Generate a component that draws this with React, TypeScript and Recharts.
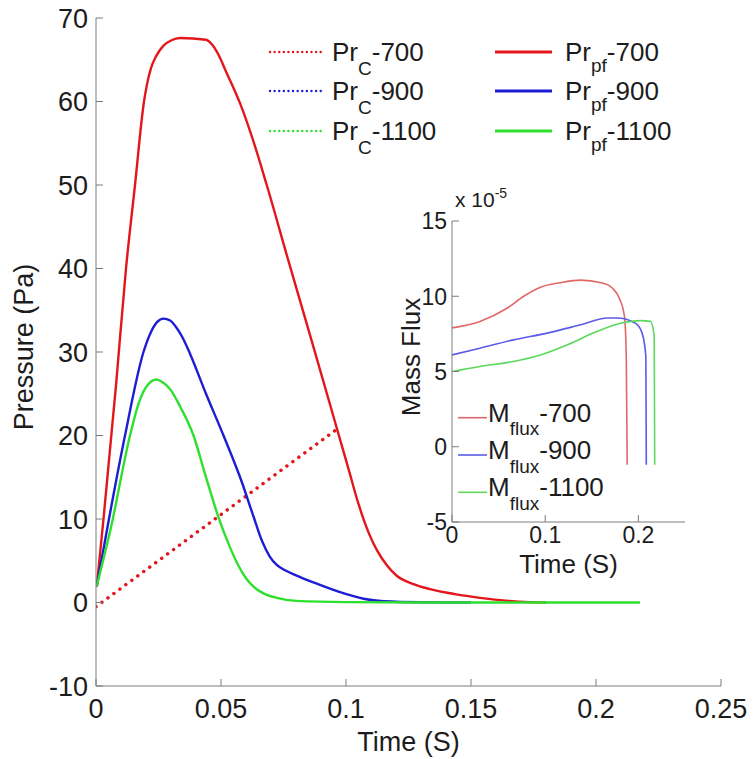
import React from 'react';
import { LineChart, Line, XAxis, YAxis, Label } from 'recharts';

const FONT = '"Liberation Sans", Arial, Helvetica, sans-serif';
const AXIS = '#7d7d7d';
const INK = '#1c1c1c';

const RED = '#e3161c';
const BLUE = '#1d1dd4';
const GREEN = '#2ee02e';
const RED_LIGHT = '#e06868';
const BLUE_LIGHT = '#5b5be6';
const GREEN_LIGHT = '#5cd85c';

// main axes
const timeTicks = [0, 0.05, 0.1, 0.15, 0.2, 0.25];
const pressureTicks = [-10, 0, 10, 20, 30, 40, 50, 60, 70];

// Pr_pf curves (Pa)
const pfTime700 = [0.0003, 0.003, 0.008, 0.012, 0.0156, 0.0192, 0.0205, 0.022, 0.024, 0.027, 0.03, 0.0336, 0.044, 0.0465, 0.049, 0.052, 0.0576, 0.063, 0.0683, 0.0769, 0.0866, 0.0963, 0.101, 0.105, 0.109, 0.1123, 0.1165, 0.1203, 0.127, 0.1336, 0.1436, 0.1536, 0.165, 0.1736, 0.18];
const pf700 = [1.9, 10, 26, 40, 50, 60, 62.2, 64, 65.4, 66.7, 67.3, 67.6, 67.4, 66.8, 65.6, 63.6, 59.8, 55.2, 50, 41, 31, 20.9, 16, 11.8, 8.4, 6.3, 4.4, 3.2, 2.2, 1.6, 1, 0.56, 0.2, 0.05, 0];

const pfTime900 = [0.0003, 0.005, 0.0116, 0.019, 0.022, 0.0245, 0.027, 0.0295, 0.032, 0.0345, 0.0376, 0.044, 0.051, 0.058, 0.063, 0.0665, 0.0695, 0.0723, 0.076, 0.08, 0.087, 0.097, 0.107, 0.115, 0.13, 0.15];
const pf900 = [1.95, 9.7, 20, 30, 32.4, 33.6, 34, 33.8, 33, 31.8, 29.8, 25, 20, 14.7, 10.3, 7.3, 5.5, 4.5, 3.8, 3.25, 2.4, 1.3, 0.45, 0.15, 0.03, 0];

const pfTime1100 = [0.0003, 0.006, 0.0136, 0.017, 0.0205, 0.0243, 0.026, 0.03, 0.0336, 0.039, 0.0436, 0.049, 0.0536, 0.057, 0.06, 0.063, 0.067, 0.0723, 0.08, 0.1, 0.15, 0.2176];
const pf1100 = [1.95, 9, 20, 23.8, 26, 26.7, 26.5, 25.4, 23.5, 20, 15.4, 10.2, 6.6, 4.4, 2.9, 1.9, 1.1, 0.56, 0.2, 0.05, 0, 0];

// Pr_C-700
const cTime700 = [0, 0.097];
const c700 = [-0.5, 20.9];

// inset axes (x 10^-5)
const fluxTimeTicks = [0, 0.1, 0.2];
const fluxTicks = [-5, 0, 5, 10, 15];

const mTime700 = [0, 0.03, 0.059, 0.077, 0.095, 0.116, 0.138, 0.16, 0.172, 0.18, 0.185, 0.187, 0.188];
const m700 = [7.9, 8.33, 9.2, 10, 10.6, 10.9, 11.07, 10.9, 10.55, 9.8, 8.7, 6, -1.2];

const mTime900 = [0, 0.03, 0.066, 0.102, 0.138, 0.167, 0.177, 0.197, 0.204, 0.208, 0.2085];
const m900 = [6.1, 6.55, 7.1, 7.55, 8.1, 8.55, 8.55, 8.2, 7.55, 6, -1.2];

const mTime1100 = [0, 0.03, 0.066, 0.095, 0.124, 0.156, 0.181, 0.2025, 0.213, 0.217, 0.2175];
const m1100 = [5, 5.33, 5.67, 6.1, 6.78, 7.67, 8.2, 8.38, 8.33, 7.33, -1.2];

// legend
const legendTemps = ['-700', '-900', '-1100'];
const legendColors = [RED, BLUE, GREEN];
const insetColors = [RED_LIGHT, BLUE_LIGHT, GREEN_LIGHT];

const pts = (ts: number[], vs: number[]) => ts.map((t, i) => ({ t, v: vs[i] }));

const txt = { fontFamily: FONT, fill: INK };

function bottomTick(p: any, size: number, base: number) {
  return (
    <g>
      <line x1={p.x} x2={p.x} y1={p.y} y2={p.y - 7} stroke={AXIS} />
      <text x={p.x} y={p.y + base} textAnchor="middle" fontSize={size} {...txt}>
        {String(p.payload.value)}
      </text>
    </g>
  );
}

function topTick(p: any) {
  return <line x1={p.x} x2={p.x} y1={p.y} y2={p.y + 7} stroke={AXIS} />;
}

function leftTick(p: any, size: number, gap: number) {
  return (
    <g>
      <line x1={p.x} x2={p.x + 7} y1={p.y} y2={p.y} stroke={AXIS} />
      <text x={p.x - gap} y={p.y} dy="0.36em" textAnchor="end" fontSize={size} {...txt}>
        {String(p.payload.value)}
      </text>
    </g>
  );
}

function rightTick(p: any) {
  return <line x1={p.x} x2={p.x - 7} y1={p.y} y2={p.y} stroke={AXIS} />;
}

function MainChart() {
  const solid = [pts(pfTime700, pf700), pts(pfTime900, pf900), pts(pfTime1100, pf1100)];
  return (
    <LineChart width={753} height={759} margin={{ top: 18, right: 32, bottom: 0, left: 0 }}>
      <XAxis xAxisId="b" type="number" dataKey="t" domain={[0, 0.25]} ticks={timeTicks} interval={0}
        height={73} tickSize={0} tickMargin={0} tickLine={false} axisLine={{ stroke: AXIS }}
        tick={(p: any) => bottomTick(p, 27, 32)} allowDataOverflow>
        <Label content={({ viewBox }: any) => (
          <text x={viewBox.x + viewBox.width / 2} y={viewBox.y + 65} textAnchor="middle" fontSize={27} {...txt}>Time (S)</text>
        )} />
      </XAxis>
      <XAxis xAxisId="t" orientation="top" type="number" dataKey="t" domain={[0, 0.25]} ticks={timeTicks} interval={0}
        height={0} tickSize={0} tickMargin={0} tickLine={false} axisLine={{ stroke: AXIS }} tick={topTick} allowDataOverflow />
      <YAxis yAxisId="l" type="number" domain={[-10, 70]} ticks={pressureTicks} interval={0} width={96}
        tickSize={0} tickMargin={0} tickLine={false} axisLine={{ stroke: AXIS }}
        tick={(p: any) => leftTick(p, 27, 8)} allowDataOverflow>
        <Label content={() => (
          <text x={33} y={347} transform="rotate(-90, 33, 347)" textAnchor="middle" fontSize={27} {...txt}>Pressure (Pa)</text>
        )} />
      </YAxis>
      <YAxis yAxisId="r" orientation="right" type="number" domain={[-10, 70]} ticks={pressureTicks} interval={0} width={0}
        tickSize={0} tickMargin={0} tickLine={false} axisLine={{ stroke: AXIS }} tick={rightTick} allowDataOverflow />
      <Line xAxisId="b" yAxisId="l" data={pts(cTime700, c700)} dataKey="v" type="linear" stroke={RED}
        strokeWidth={3.5} strokeDasharray="0.01 7.4" strokeLinecap="round" dot={false} activeDot={false} isAnimationActive={false} />
      {solid.map((d, i) => (
        <Line key={i} xAxisId="b" yAxisId="l" data={d} dataKey="v" type="monotone" stroke={legendColors[i]}
          strokeWidth={2.4} dot={false} activeDot={false} isAnimationActive={false} />
      ))}
    </LineChart>
  );
}

function InsetChart() {
  const series = [pts(mTime700, m700), pts(mTime900, m900), pts(mTime1100, m1100)];
  return (
    <LineChart width={320} height={420} margin={{ top: 51, right: 15, bottom: 0, left: 0 }}>
      <XAxis xAxisId="b" type="number" dataKey="t" domain={[0, 0.25]} ticks={fluxTimeTicks} interval={0}
        height={68} tickSize={0} tickMargin={0} tickLine={false} axisLine={{ stroke: AXIS }}
        tick={(p: any) => bottomTick(p, 23, 21)} allowDataOverflow>
        <Label content={({ viewBox }: any) => (
          <text x={viewBox.x + viewBox.width / 2} y={viewBox.y + 51} textAnchor="middle" fontSize={26} {...txt}>Time (S)</text>
        )} />
      </XAxis>
      <XAxis xAxisId="t" orientation="top" type="number" dataKey="t" domain={[0, 0.25]} ticks={fluxTimeTicks} interval={0}
        height={0} tickSize={0} tickMargin={0} tickLine={false} axisLine={{ stroke: AXIS }} tick={topTick} allowDataOverflow />
      <YAxis yAxisId="l" type="number" domain={[-5, 15]} ticks={fluxTicks} interval={0} width={72}
        tickSize={0} tickMargin={0} tickLine={false} axisLine={{ stroke: AXIS }}
        tick={(p: any) => leftTick(p, 23, 5)} allowDataOverflow>
        <Label content={() => (
          <g>
            <text x={40} y={187} transform="rotate(-90, 40, 187)" textAnchor="middle" fontSize={26} {...txt}>Mass Flux</text>
            <text x={75} y={37} fontSize={21} {...txt}>
              x 10<tspan dy={-9} fontSize={14}>-5</tspan>
            </text>
          </g>
        )} />
      </YAxis>
      <YAxis yAxisId="r" orientation="right" type="number" domain={[-5, 15]} ticks={fluxTicks} interval={0} width={0}
        tickSize={0} tickMargin={0} tickLine={false} axisLine={{ stroke: AXIS }} tick={rightTick} allowDataOverflow />
      {series.map((d, i) => (
        <Line key={i} xAxisId="b" yAxisId="l" data={d} dataKey="v" type="monotone" stroke={insetColors[i]}
          strokeWidth={1.6} dot={false} activeDot={false} isAnimationActive={false} />
      ))}
    </LineChart>
  );
}

function Legends() {
  const rows = [52, 91, 131];
  const insetRows = [417.7, 455, 492.3];
  return (
    <svg width={753} height={759} style={{ position: 'absolute', left: 0, top: 0, pointerEvents: 'none' }}>
      {legendTemps.map((temp, i) => (
        <g key={'c' + i}>
          <line x1={270} x2={323} y1={rows[i]} y2={rows[i]} stroke={legendColors[i]} strokeWidth={2.4}
            strokeDasharray="0.01 4.6" strokeLinecap="round" />
          <text x={332} y={rows[i] + 9} fontSize={26} {...txt}>
            Pr<tspan dy={14} fontSize={19}>C</tspan><tspan dy={-14}>{temp}</tspan>
          </text>
          <line x1={495} x2={552} y1={rows[i]} y2={rows[i]} stroke={legendColors[i]} strokeWidth={3} />
          <text x={565} y={rows[i] + 9} fontSize={26} {...txt}>
            Pr<tspan dy={11} fontSize={19}>pf</tspan><tspan dy={-11}>{temp}</tspan>
          </text>
        </g>
      ))}
      {legendTemps.map((temp, i) => (
        <g key={'m' + i}>
          <line x1={458} x2={487} y1={insetRows[i]} y2={insetRows[i]} stroke={insetColors[i]} strokeWidth={1.6} />
          <text x={488} y={insetRows[i] + 4} fontSize={26} {...txt}>
            M<tspan dy={13.5} fontSize={19}>flux</tspan><tspan dy={-13.5}>{temp}</tspan>
          </text>
        </g>
      ))}
    </svg>
  );
}

export default function App() {
  return (
    <div style={{ position: 'absolute', left: 0, top: 0, width: 753, height: 759, background: '#fff' }}>
      <MainChart />
      <div style={{ position: 'absolute', left: 380, top: 170 }}>
        <InsetChart />
      </div>
      <Legends />
    </div>
  );
}
